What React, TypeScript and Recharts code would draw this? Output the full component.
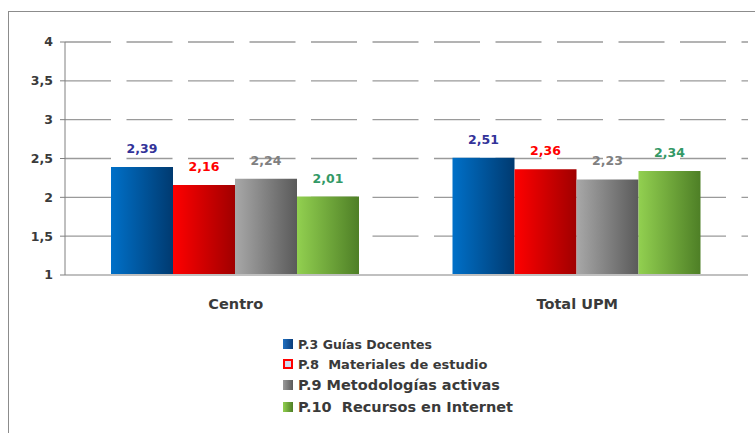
import React from 'react';
import { BarChart, Bar, XAxis, YAxis, CartesianGrid, LabelList } from 'recharts';

const categories = ['Centro', 'Total UPM'];
const guiasDocentes = [2.39, 2.51];
const materialesEstudio = [2.16, 2.36];
const metodologiasActivas = [2.24, 2.23];
const recursosInternet = [2.01, 2.34];
const yTicks = [1, 1.5, 2, 2.5, 3, 3.5, 4];
const seriesNames = [
  'P.3 Guías Docentes',
  'P.8  Materiales de estudio',
  'P.9 Metodologías activas',
  'P.10  Recursos en Internet',
];

const data = categories.map((name, i) => ({
  name,
  guias: guiasDocentes[i],
  materiales: materialesEstudio[i],
  metodologias: metodologiasActivas[i],
  recursos: recursosInternet[i],
}));

const FONT = '"DejaVu Sans", sans-serif';
const TEXT = '#3a3a3a';

const series = [
  { key: 'guias', grad: 'gBlue', from: '#0070c8', to: '#003a70', label: '#333399' },
  { key: 'materiales', grad: 'gRed', from: '#ff0000', to: '#a00000', label: '#ff0000' },
  { key: 'metodologias', grad: 'gGray', from: '#a8a8a8', to: '#5a5a5a', label: '#808080' },
  { key: 'recursos', grad: 'gGreen', from: '#92d050', to: '#4e7f26', label: '#339966' },
];

const fmt = (v: number) => String(v).replace('.', ',');

// legend drawn as plain html under the plot
function LegendBox() {
  const rows = [
    { fontSize: 12.5, center: 344 },
    { fontSize: 13, center: 364 },
    { fontSize: 14.5, center: 385 },
    { fontSize: 14.5, center: 407 },
  ];
  const icons: React.CSSProperties[] = [
    { background: 'linear-gradient(90deg,#1f6fc0,#0b3d7a)' },
    { background: '#cfdcf2', border: '2px solid #ff0000', boxSizing: 'border-box' },
    { background: 'linear-gradient(90deg,#9a9a9a,#5a5a5a)' },
    { background: 'linear-gradient(90deg,#92d050,#4e7f26)' },
  ];
  return (
    <>
      {seriesNames.map((n, i) => (
        <div
          key={n}
          style={{
            position: 'absolute',
            left: 283,
            top: rows[i].center - 10,
            height: 20,
            display: 'flex',
            alignItems: 'center',
            whiteSpace: 'pre',
            fontFamily: FONT,
            fontWeight: 700,
            color: TEXT,
          }}
        >
          <span style={{ display: 'inline-block', width: 10, height: 10, marginRight: 5, ...icons[i] }} />
          <span style={{ fontSize: rows[i].fontSize }}>{n}</span>
        </div>
      ))}
    </>
  );
}

export default function App() {
  return (
    <div style={{ position: 'fixed', left: 0, top: 0, width: 755, height: 433, overflow: 'hidden', background: '#fff' }}>
      <div style={{ position: 'absolute', left: 8, top: 11, width: 900, height: 600, border: '1px solid #8c8c8c' }} />
      <div style={{ position: 'absolute', left: 0, top: 0 }}>
        <BarChart
          width={755}
          height={433}
          data={data}
          margin={{ top: 42, right: 7, bottom: 118, left: 0 }}
          barCategoryGap={46}
          barGap={0}
        >
          <defs>
            {series.map((s) => (
              <linearGradient key={s.grad} id={s.grad} x1="0" y1="0" x2="1" y2="0">
                <stop offset="0%" stopColor={s.from} />
                <stop offset="100%" stopColor={s.to} />
              </linearGradient>
            ))}
          </defs>
          <CartesianGrid vertical={false} stroke="#9a9a9a" strokeWidth={1.3} strokeDasharray="46 15.5" />
          <XAxis
            dataKey="name"
            height={40}
            axisLine={{ stroke: '#c0c0c0', strokeWidth: 2 }}
            tickLine={false}
            tickMargin={18}
            tick={{ fill: TEXT, fontFamily: FONT, fontWeight: 700, fontSize: 14.5 }}
          />
          <YAxis
            width={65}
            domain={[1, 4]}
            ticks={yTicks}
            interval={0}
            tickFormatter={fmt}
            axisLine={{ stroke: '#808080' }}
            tickLine={{ stroke: '#808080' }}
            tickSize={5}
            tickMargin={7}
            tick={{ fill: TEXT, fontFamily: FONT, fontWeight: 700, fontSize: 12.5 }}
          />
          {series.map((s, i) => (
            <Bar key={s.key} dataKey={s.key} name={seriesNames[i]} fill={`url(#${s.grad})`} isAnimationActive={false}>
              <LabelList
                dataKey={s.key}
                position="top"
                offset={14}
                formatter={(v: any) => fmt(v)}
                style={{ fill: s.label, fontFamily: FONT, fontWeight: 700, fontSize: 12.5 }}
              />
            </Bar>
          ))}
        </BarChart>
      </div>
      <LegendBox />
    </div>
  );
}
